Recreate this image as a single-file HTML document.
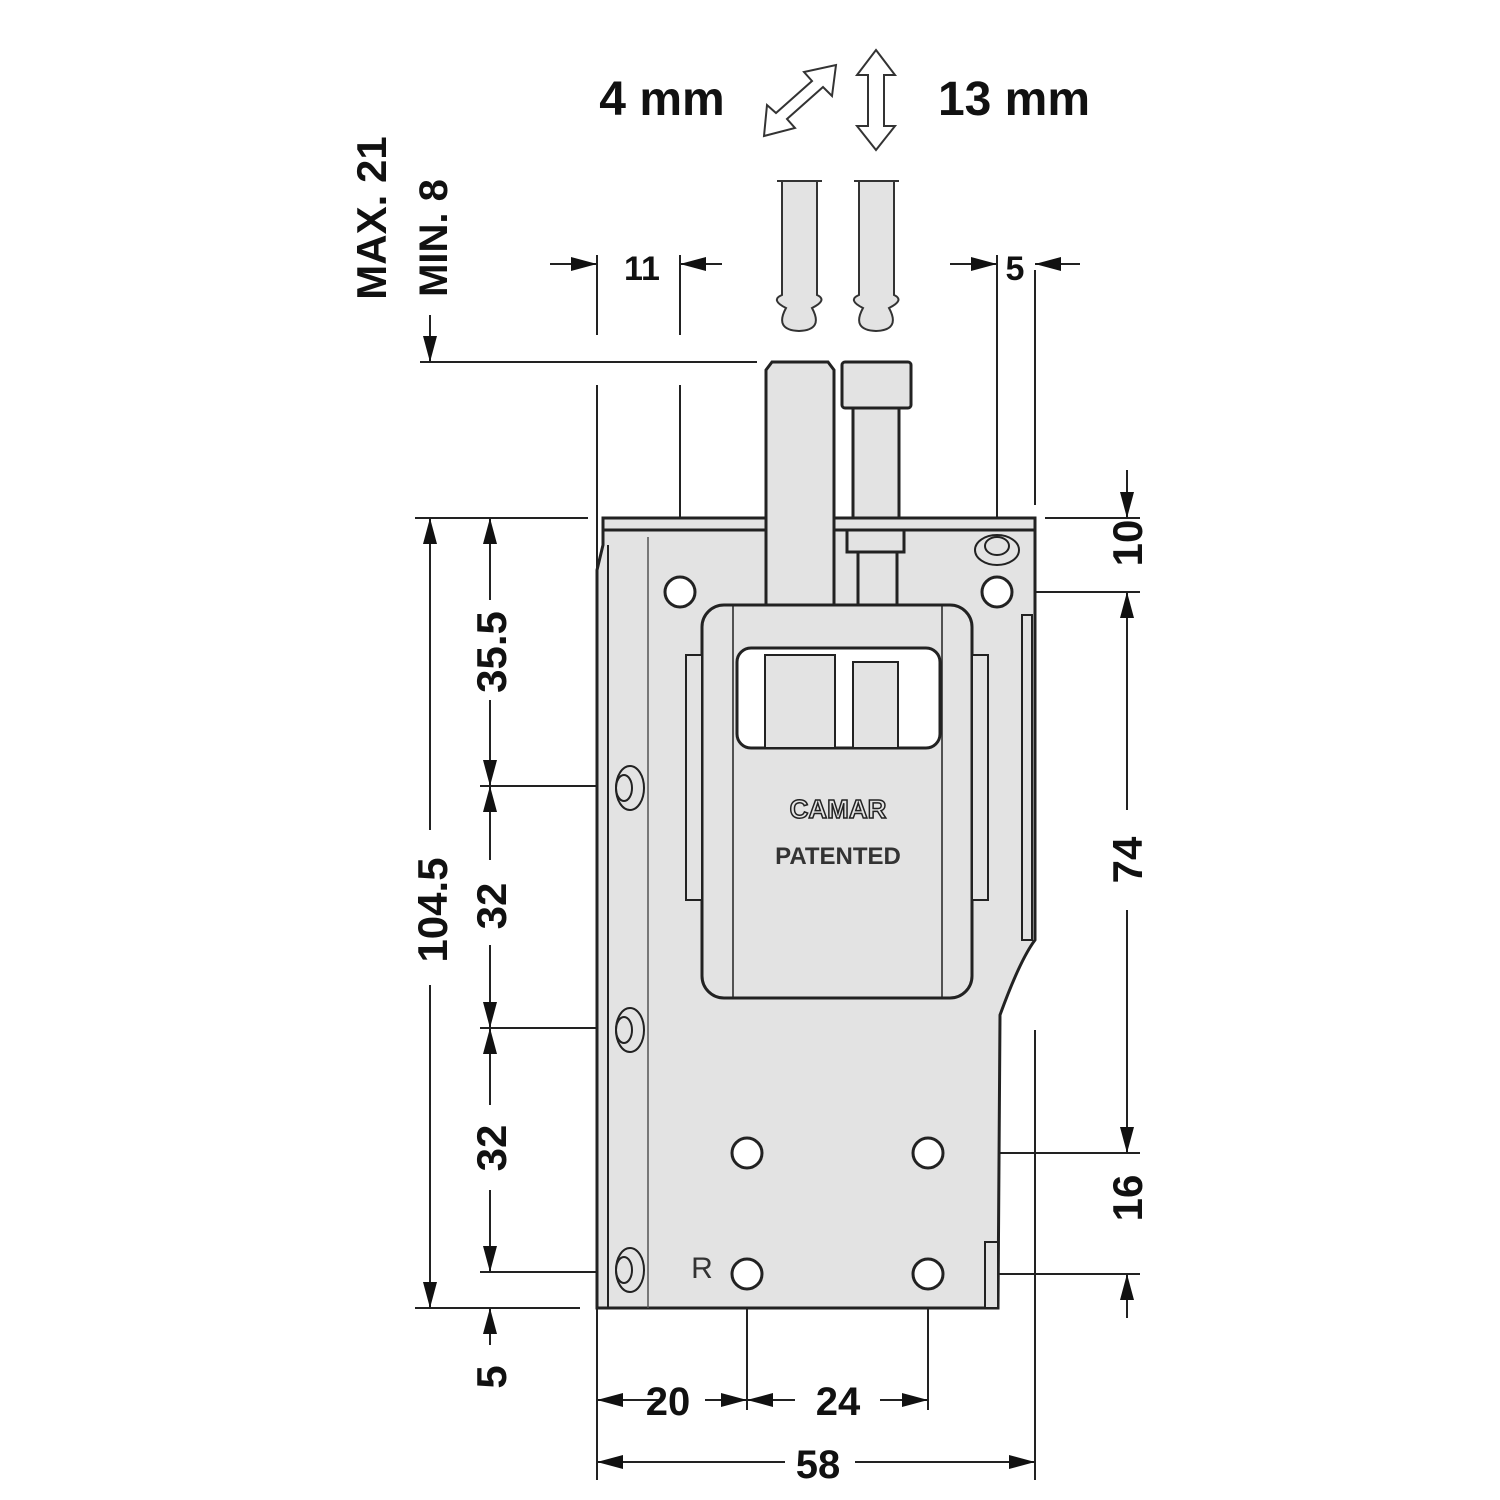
<!DOCTYPE html>
<html><head><style>html,body{margin:0;padding:0;background:#fff}svg{display:block}</style></head><body>
<svg width="1500" height="1500" viewBox="0 0 1500 1500" xmlns="http://www.w3.org/2000/svg" font-family="'Liberation Sans',sans-serif">
<defs>
<marker id="a" viewBox="0 0 26 14" refX="26" refY="7" markerWidth="26" markerHeight="14" markerUnits="userSpaceOnUse" orient="auto"><path d="M0,0 L26,7 L0,14Z" fill="#111"/></marker>
</defs>
<g stroke="#222" stroke-width="2" fill="none">
<line x1="420" y1="362" x2="757" y2="362"/>
<line x1="415" y1="518" x2="588" y2="518"/>
<line x1="415" y1="1308" x2="580" y2="1308"/>
<line x1="480" y1="786" x2="612" y2="786"/>
<line x1="480" y1="1028" x2="612" y2="1028"/>
<line x1="480" y1="1272" x2="612" y2="1272"/>
<line x1="1045" y1="518" x2="1140" y2="518"/>
<line x1="1012" y1="592" x2="1140" y2="592"/>
<line x1="943" y1="1153" x2="1140" y2="1153"/>
<line x1="943" y1="1274" x2="1140" y2="1274"/>
<line x1="597" y1="255" x2="597" y2="335"/><line x1="597" y1="385" x2="597" y2="1480"/>
<line x1="680" y1="255" x2="680" y2="335"/><line x1="680" y1="385" x2="680" y2="578"/>
<line x1="997" y1="255" x2="997" y2="578"/>
<line x1="1035" y1="270" x2="1035" y2="505"/><line x1="1035" y1="1030" x2="1035" y2="1480"/>
<line x1="747" y1="1290" x2="747" y2="1410"/>
<line x1="928" y1="1290" x2="928" y2="1410"/>
<line x1="430" y1="315" x2="430" y2="362" marker-end="url(#a)"/>
<line x1="430" y1="830" x2="430" y2="518" marker-end="url(#a)"/>
<line x1="430" y1="985" x2="430" y2="1308" marker-end="url(#a)"/>
<line x1="490" y1="600" x2="490" y2="518" marker-end="url(#a)"/>
<line x1="490" y1="700" x2="490" y2="786" marker-end="url(#a)"/>
<line x1="490" y1="860" x2="490" y2="786" marker-end="url(#a)"/>
<line x1="490" y1="945" x2="490" y2="1028" marker-end="url(#a)"/>
<line x1="490" y1="1105" x2="490" y2="1028" marker-end="url(#a)"/>
<line x1="490" y1="1190" x2="490" y2="1272" marker-end="url(#a)"/>
<line x1="490" y1="1345" x2="490" y2="1308" marker-end="url(#a)"/>
<line x1="1127" y1="470" x2="1127" y2="518" marker-end="url(#a)"/>
<line x1="1127" y1="810" x2="1127" y2="592" marker-end="url(#a)"/>
<line x1="1127" y1="910" x2="1127" y2="1153" marker-end="url(#a)"/>
<line x1="1127" y1="1318" x2="1127" y2="1274" marker-end="url(#a)"/>
<line x1="660" y1="1400" x2="597" y2="1400" marker-end="url(#a)"/>
<line x1="705" y1="1400" x2="747" y2="1400" marker-end="url(#a)"/>
<line x1="795" y1="1400" x2="747" y2="1400" marker-end="url(#a)"/>
<line x1="880" y1="1400" x2="928" y2="1400" marker-end="url(#a)"/>
<line x1="785" y1="1462" x2="597" y2="1462" marker-end="url(#a)"/>
<line x1="855" y1="1462" x2="1035" y2="1462" marker-end="url(#a)"/>
<line x1="550" y1="264" x2="597" y2="264" marker-end="url(#a)"/>
<line x1="722" y1="264" x2="680" y2="264" marker-end="url(#a)"/>
<line x1="950" y1="264" x2="997" y2="264" marker-end="url(#a)"/>
<line x1="1080" y1="264" x2="1035" y2="264" marker-end="url(#a)"/>
</g>
<g stroke="#222" stroke-width="3" fill="#e3e3e3">
<path d="M603,518 L1035,518 L1035,940 Q1020,960 1000,1015 L998,1308 L597,1308 L597,570 L603,545Z"/>
<line x1="603" y1="530" x2="1035" y2="530"/>
<line x1="608" y1="545" x2="608" y2="1308" stroke-width="2"/>
<line x1="648" y1="537" x2="648" y2="1308" stroke-width="1.5" stroke="#555"/>
<path d="M766,605 L766,370 L772,362 L828,362 L834,370 L834,605"/>
<rect x="842" y="362" width="69" height="46" rx="3"/>
<rect x="853" y="408" width="46" height="110"/>
<rect x="847" y="530" width="57" height="22"/>
<rect x="858" y="552" width="39" height="53"/>
<rect x="702" y="605" width="270" height="393" rx="22"/>
<line x1="733" y1="605" x2="733" y2="998" stroke-width="1.5"/>
<line x1="942" y1="605" x2="942" y2="998" stroke-width="1.5"/>
<rect x="737" y="648" width="203" height="100" rx="14" fill="#fff"/>
<rect x="765" y="655" width="70" height="93" fill="#e3e3e3" stroke-width="2"/>
<rect x="853" y="662" width="45" height="86" fill="#e3e3e3" stroke-width="2"/>
<rect x="686" y="655" width="16" height="245" stroke-width="2"/>
<rect x="972" y="655" width="16" height="245" stroke-width="2"/>
<rect x="1022" y="615" width="10" height="325" stroke-width="2"/>
<rect x="985" y="1242" width="13" height="66" stroke-width="2"/>
<g fill="#fff">
<circle cx="680" cy="592" r="15"/><circle cx="997" cy="592" r="15"/>
<circle cx="747" cy="1153" r="15"/><circle cx="928" cy="1153" r="15"/>
<circle cx="747" cy="1274" r="15"/><circle cx="928" cy="1274" r="15"/>
</g>
<g fill="none" stroke-width="2">
<ellipse cx="630" cy="788" rx="14" ry="22"/><ellipse cx="624" cy="788" rx="8" ry="13"/>
<ellipse cx="630" cy="1030" rx="14" ry="22"/><ellipse cx="624" cy="1030" rx="8" ry="13"/>
<ellipse cx="630" cy="1270" rx="14" ry="22"/><ellipse cx="624" cy="1270" rx="8" ry="13"/>
<ellipse cx="997" cy="550" rx="22" ry="15"/><ellipse cx="997" cy="546" rx="12" ry="9"/>
</g>
</g>
<g stroke="#333" stroke-width="2" fill="#e3e3e3">
<path d="M782,181 L782,295 Q770,300 786,308 Q774,330 799,331 Q824,330 812,308 Q828,300 817,295 L817,181Z"/>
<line x1="777" y1="181" x2="822" y2="181"/>
<path d="M859,181 L859,295 Q847,300 863,308 Q851,330 876,331 Q901,330 889,308 Q905,300 894,295 L894,181Z"/>
<line x1="854" y1="181" x2="899" y2="181"/>
<path fill="#fff" d="M876,50 L895,75 L884,75 L884,126 L895,126 L876,150 L857,126 L868,126 L868,75 L857,75Z"/>
<path fill="#fff" d="M836,65 L832,96 L823,87 L787,119 L795,128 L764,136 L767,105 L776,113 L812,81 L804,72Z"/>
</g>
<g font-weight="bold" fill="#111" font-size="44" text-anchor="middle">
<text x="662" y="115" font-size="48">4 mm</text>
<text x="1014" y="115" font-size="48">13 mm</text>
<text x="642" y="280" font-size="34">11</text>
<text x="1015" y="280" font-size="34">5</text>
<text x="668" y="1415" font-size="40">20</text>
<text x="838" y="1415" font-size="40">24</text>
<text x="818" y="1478" font-size="40">58</text>
<text transform="translate(386,218) rotate(-90)" font-size="42">MAX. 21</text>
<text transform="translate(447,238) rotate(-90)" font-size="40">MIN. 8</text>
<text transform="translate(447,910) rotate(-90)" font-size="42">104.5</text>
<text transform="translate(506,652) rotate(-90)" font-size="42">35.5</text>
<text transform="translate(506,906) rotate(-90)" font-size="42">32</text>
<text transform="translate(506,1148) rotate(-90)" font-size="42">32</text>
<text transform="translate(506,1377) rotate(-90)" font-size="42">5</text>
<text transform="translate(1142,543) rotate(-90)" font-size="42">10</text>
<text transform="translate(1142,860) rotate(-90)" font-size="42">74</text>
<text transform="translate(1142,1198) rotate(-90)" font-size="42">16</text>
<text x="838" y="818" font-size="26" fill="#e3e3e3" stroke="#222" stroke-width="1.5">CAMAR</text>
<text x="838" y="864" font-size="24" fill="#333">PATENTED</text>
</g>
<text x="702" y="1278" font-size="30" fill="#333" text-anchor="middle" font-family="'Liberation Sans',sans-serif">R</text>
</svg>
</body></html>
